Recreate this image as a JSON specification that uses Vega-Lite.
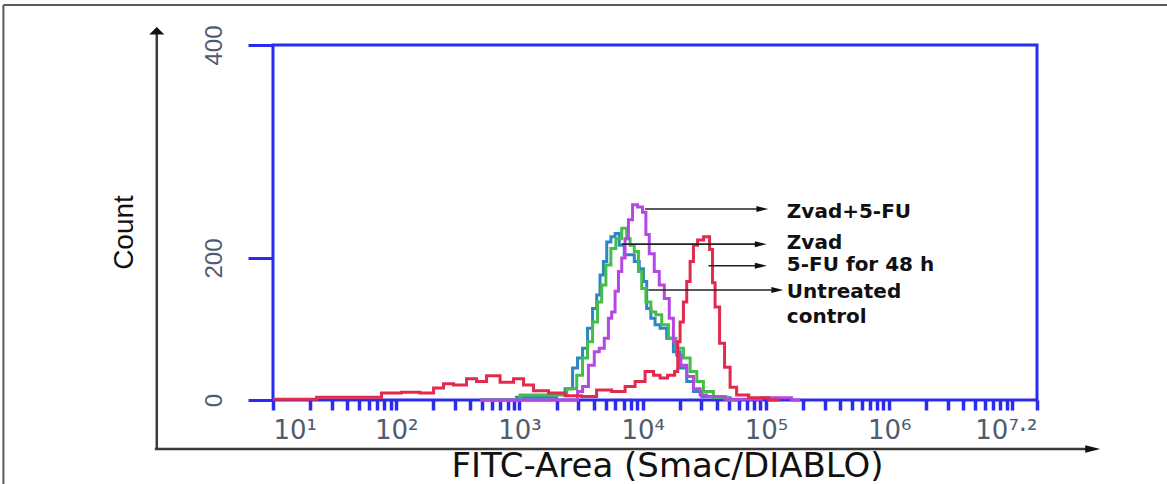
{
  "$schema": "https://vega.github.io/schema/vega-lite/v6.json",
  "width": 764,
  "height": 355,
  "autosize": {"type": "none"},
  "padding": {"left": 273, "top": 45, "right": 130, "bottom": 84},
  "background": "white",
  "config": {
    "view": {"stroke": "#2a2af0", "strokeWidth": 3},
    "axis": {"grid": false}
  },
  "datasets": {
    "hist": [
      {"s": "Untreated control", "x": 479, "y": 0},
      {"s": "Untreated control", "x": 1875, "y": 4},
      {"s": "Untreated control", "x": 2136, "y": 9},
      {"s": "Untreated control", "x": 2576, "y": 16},
      {"s": "Untreated control", "x": 2827, "y": 45},
      {"s": "Untreated control", "x": 3104, "y": 59},
      {"s": "Untreated control", "x": 3407, "y": 73},
      {"s": "Untreated control", "x": 3741, "y": 101},
      {"s": "Untreated control", "x": 4108, "y": 129},
      {"s": "Untreated control", "x": 4367, "y": 148},
      {"s": "Untreated control", "x": 4656, "y": 176},
      {"s": "Untreated control", "x": 4955, "y": 195},
      {"s": "Untreated control", "x": 5270, "y": 215},
      {"s": "Untreated control", "x": 5782, "y": 220},
      {"s": "Untreated control", "x": 6166, "y": 223},
      {"s": "Untreated control", "x": 6761, "y": 212},
      {"s": "Untreated control", "x": 7430, "y": 203},
      {"s": "Untreated control", "x": 8166, "y": 203},
      {"s": "Untreated control", "x": 8954, "y": 195},
      {"s": "Untreated control", "x": 9840, "y": 185},
      {"s": "Untreated control", "x": 10450, "y": 167},
      {"s": "Untreated control", "x": 11120, "y": 129},
      {"s": "Untreated control", "x": 12210, "y": 115},
      {"s": "Untreated control", "x": 13010, "y": 106},
      {"s": "Untreated control", "x": 14720, "y": 101},
      {"s": "Untreated control", "x": 16680, "y": 87},
      {"s": "Untreated control", "x": 18910, "y": 68},
      {"s": "Untreated control", "x": 21400, "y": 45},
      {"s": "Untreated control", "x": 24270, "y": 26},
      {"s": "Untreated control", "x": 27480, "y": 12},
      {"s": "Untreated control", "x": 33110, "y": 5},
      {"s": "Untreated control", "x": 42460, "y": 3},
      {"s": "Untreated control", "x": 61800, "y": 0},

      {"s": "Zvad", "x": 479, "y": 0},
      {"s": "Zvad", "x": 2136, "y": 7},
      {"s": "Zvad", "x": 2737, "y": 16},
      {"s": "Zvad", "x": 3104, "y": 35},
      {"s": "Zvad", "x": 3407, "y": 59},
      {"s": "Zvad", "x": 3741, "y": 82},
      {"s": "Zvad", "x": 4108, "y": 110},
      {"s": "Zvad", "x": 4508, "y": 138},
      {"s": "Zvad", "x": 4797, "y": 162},
      {"s": "Zvad", "x": 5270, "y": 190},
      {"s": "Zvad", "x": 5782, "y": 209},
      {"s": "Zvad", "x": 6353, "y": 218},
      {"s": "Zvad", "x": 7195, "y": 228},
      {"s": "Zvad", "x": 7656, "y": 218},
      {"s": "Zvad", "x": 8166, "y": 212},
      {"s": "Zvad", "x": 8954, "y": 206},
      {"s": "Zvad", "x": 9528, "y": 181},
      {"s": "Zvad", "x": 10140, "y": 157},
      {"s": "Zvad", "x": 11120, "y": 138},
      {"s": "Zvad", "x": 12210, "y": 124},
      {"s": "Zvad", "x": 13410, "y": 120},
      {"s": "Zvad", "x": 15200, "y": 106},
      {"s": "Zvad", "x": 17220, "y": 87},
      {"s": "Zvad", "x": 20140, "y": 73},
      {"s": "Zvad", "x": 22800, "y": 59},
      {"s": "Zvad", "x": 25820, "y": 40},
      {"s": "Zvad", "x": 29240, "y": 26},
      {"s": "Zvad", "x": 33110, "y": 12},
      {"s": "Zvad", "x": 42460, "y": 4},
      {"s": "Zvad", "x": 56230, "y": 0},

      {"s": "Zvad+5-FU", "x": 479, "y": 0},
      {"s": "Zvad+5-FU", "x": 2827, "y": 0},
      {"s": "Zvad+5-FU", "x": 3104, "y": 12},
      {"s": "Zvad+5-FU", "x": 3407, "y": 19},
      {"s": "Zvad+5-FU", "x": 3864, "y": 49},
      {"s": "Zvad+5-FU", "x": 4240, "y": 68},
      {"s": "Zvad+5-FU", "x": 4656, "y": 73},
      {"s": "Zvad+5-FU", "x": 5114, "y": 87},
      {"s": "Zvad+5-FU", "x": 5433, "y": 115},
      {"s": "Zvad+5-FU", "x": 5782, "y": 124},
      {"s": "Zvad+5-FU", "x": 6166, "y": 153},
      {"s": "Zvad+5-FU", "x": 6561, "y": 181},
      {"s": "Zvad+5-FU", "x": 6970, "y": 200},
      {"s": "Zvad+5-FU", "x": 7430, "y": 218},
      {"s": "Zvad+5-FU", "x": 7907, "y": 236},
      {"s": "Zvad+5-FU", "x": 8670, "y": 250},
      {"s": "Zvad+5-FU", "x": 9528, "y": 248},
      {"s": "Zvad+5-FU", "x": 10450, "y": 243},
      {"s": "Zvad+5-FU", "x": 10790, "y": 222},
      {"s": "Zvad+5-FU", "x": 11850, "y": 204},
      {"s": "Zvad+5-FU", "x": 13010, "y": 181},
      {"s": "Zvad+5-FU", "x": 14290, "y": 162},
      {"s": "Zvad+5-FU", "x": 15690, "y": 143},
      {"s": "Zvad+5-FU", "x": 17220, "y": 115},
      {"s": "Zvad+5-FU", "x": 18320, "y": 82},
      {"s": "Zvad+5-FU", "x": 19500, "y": 63},
      {"s": "Zvad+5-FU", "x": 21400, "y": 49},
      {"s": "Zvad+5-FU", "x": 24270, "y": 33},
      {"s": "Zvad+5-FU", "x": 27480, "y": 16},
      {"s": "Zvad+5-FU", "x": 31110, "y": 7},
      {"s": "Zvad+5-FU", "x": 35240, "y": 5},
      {"s": "Zvad+5-FU", "x": 61800, "y": 1},
      {"s": "Zvad+5-FU", "x": 138000, "y": 3},
      {"s": "Zvad+5-FU", "x": 189700, "y": 0},

      {"s": "5-FU for 48 h", "x": 10, "y": 1},
      {"s": "5-FU for 48 h", "x": 16.6, "y": 1},
      {"s": "5-FU for 48 h", "x": 30.7, "y": 4},
      {"s": "5-FU for 48 h", "x": 64.8, "y": 4},
      {"s": "5-FU for 48 h", "x": 89.1, "y": 10},
      {"s": "5-FU for 48 h", "x": 137, "y": 11},
      {"s": "5-FU for 48 h", "x": 178, "y": 10},
      {"s": "5-FU for 48 h", "x": 227, "y": 17},
      {"s": "5-FU for 48 h", "x": 258, "y": 23},
      {"s": "5-FU for 48 h", "x": 330, "y": 21},
      {"s": "5-FU for 48 h", "x": 420, "y": 30},
      {"s": "5-FU for 48 h", "x": 479, "y": 26},
      {"s": "5-FU for 48 h", "x": 611, "y": 34},
      {"s": "5-FU for 48 h", "x": 793, "y": 25},
      {"s": "5-FU for 48 h", "x": 1012, "y": 30},
      {"s": "5-FU for 48 h", "x": 1153, "y": 21},
      {"s": "5-FU for 48 h", "x": 1469, "y": 13},
      {"s": "5-FU for 48 h", "x": 2018, "y": 10},
      {"s": "5-FU for 48 h", "x": 2723, "y": 6},
      {"s": "5-FU for 48 h", "x": 3741, "y": 5},
      {"s": "5-FU for 48 h", "x": 4775, "y": 14},
      {"s": "5-FU for 48 h", "x": 6561, "y": 12},
      {"s": "5-FU for 48 h", "x": 7907, "y": 19},
      {"s": "5-FU for 48 h", "x": 9528, "y": 26},
      {"s": "5-FU for 48 h", "x": 11480, "y": 40},
      {"s": "5-FU for 48 h", "x": 13090, "y": 35},
      {"s": "5-FU for 48 h", "x": 14650, "y": 31},
      {"s": "5-FU for 48 h", "x": 17330, "y": 35},
      {"s": "5-FU for 48 h", "x": 19010, "y": 40},
      {"s": "5-FU for 48 h", "x": 19500, "y": 82},
      {"s": "5-FU for 48 h", "x": 20760, "y": 110},
      {"s": "5-FU for 48 h", "x": 22080, "y": 138},
      {"s": "5-FU for 48 h", "x": 23500, "y": 167},
      {"s": "5-FU for 48 h", "x": 25060, "y": 195},
      {"s": "5-FU for 48 h", "x": 26610, "y": 212},
      {"s": "5-FU for 48 h", "x": 29240, "y": 217},
      {"s": "5-FU for 48 h", "x": 33340, "y": 220},
      {"s": "5-FU for 48 h", "x": 36560, "y": 208},
      {"s": "5-FU for 48 h", "x": 37240, "y": 165},
      {"s": "5-FU for 48 h", "x": 40180, "y": 131},
      {"s": "5-FU for 48 h", "x": 44060, "y": 80},
      {"s": "5-FU for 48 h", "x": 48420, "y": 46},
      {"s": "5-FU for 48 h", "x": 54200, "y": 18},
      {"s": "5-FU for 48 h", "x": 61800, "y": 7},
      {"s": "5-FU for 48 h", "x": 84900, "y": 3},
      {"s": "5-FU for 48 h", "x": 130300, "y": 0}
    ],
    "callouts": [
      {"t": "Zvad+5-FU", "x": 10450, "x2": 93750, "y": 246},
      {"t": "Zvad", "x": 6760, "x2": 90960, "y": 213},
      {"t": "5-FU for 48 h", "x": 34140, "x2": 90960, "y": 189},
      {"t": "Untreated control", "x": 11120, "x2": 123900, "y": 155}
    ],
    "notes": [
      {"t": "Zvad+5-FU", "x": 147900, "y": 238},
      {"t": "Zvad", "x": 147900, "y": 208},
      {"t": "5-FU for 48 h", "x": 147900, "y": 181},
      {"t": "Untreated", "x": 147900, "y": 144},
      {"t": "control", "x": 147900, "y": 109}
    ],
    "arrows": [
      {"x": 1.14, "x2": 1.14, "y": -69, "y2": 413},
      {"x": 1.10, "x2": 44900000, "y": -69, "y2": -69}
    ],
    "heads": [
      {"kind": "up", "x": 1.14, "y": 413.4},
      {"kind": "right", "x": 44900000, "y": -69}
    ],
    "border": [
      {"x": 0.0649, "x2": 180000000, "y": 437.6, "y2": 437.6},
      {"x": 0.0649, "x2": 0.0649, "y": 437.6, "y2": -120}
    ]
  },
  "encoding": {
    "x": {
      "field": "x",
      "type": "quantitative",
      "scale": {"type": "log", "domain": [10, 15848932], "nice": false},
      "axis": {
        "title": "FITC-Area (Smac/DIABLO)",
        "domain": false,
        "values": [10, 20, 30, 40, 50, 60, 70, 80, 90,
                   100, 200, 300, 400, 500, 600, 700, 800, 900,
                   1000, 2000, 3000, 4000, 5000, 6000, 7000, 8000, 9000,
                   10000, 20000, 30000, 40000, 50000, 60000, 70000, 80000, 90000,
                   100000, 200000, 300000, 400000, 500000, 600000, 700000, 800000, 900000,
                   1000000, 2000000, 3000000, 4000000, 5000000, 6000000, 7000000, 8000000, 9000000,
                   10000000, 15848932],
        "tickSize": 10,
        "tickWidth": 3.5,
        "tickColor": "#2a2af0",
        "labelExpr": "datum.value == 10 ? '10¹' : datum.value == 100 ? '10²' : datum.value == 1000 ? '10³' : datum.value == 10000 ? '10⁴' : datum.value == 100000 ? '10⁵' : datum.value == 1000000 ? '10⁶' : datum.value > 12000000 ? '10⁷·²' : ''",
        "labelFont": "DejaVu Sans",
        "labelFontSize": 26,
        "labelColor": "#4f5b70",
        "labelBaseline": "alphabetic",
        "labelPadding": 28,
        "labelOverlap": false,
        "labelFlush": true,
        "labelBound": false,
        "titleFont": "DejaVu Sans",
        "titleFontSize": 34,
        "titleFontWeight": "normal",
        "titleColor": "#111111",
        "titleX": 394,
        "titleY": 76,
        "titleAlign": "center",
        "titleBaseline": "alphabetic",
        "titleAngle": 0
      }
    },
    "y": {
      "field": "y",
      "type": "quantitative",
      "scale": {"domain": [0, 200, 400], "range": [355, 213, 0], "nice": false, "zero": false},
      "axis": {
        "title": "Count",
        "domain": false,
        "values": [0, 200, 400],
        "tickSize": 25,
        "tickWidth": 3,
        "tickColor": "#2a2af0",
        "labelAngle": 270,
        "labelAlign": "center",
        "labelBaseline": "alphabetic",
        "labelPadding": 27,
        "labelFont": "Liberation Sans",
        "labelFontSize": 24,
        "labelColor": "#4f5b70",
        "labelFlush": false,
        "labelOverlap": false,
        "titleFont": "Liberation Sans",
        "titleFontSize": 28,
        "titleFontWeight": "normal",
        "titleColor": "#111111",
        "titleAngle": 270,
        "titleX": -141,
        "titleY": 187,
        "titleAlign": "center",
        "titleBaseline": "alphabetic"
      }
    }
  },
  "layer": [
    {
      "data": {"name": "border"},
      "mark": {"type": "rule", "color": "#5a5a5a", "strokeWidth": 2},
      "encoding": {"x2": {"field": "x2"}, "y2": {"field": "y2"}}
    },
    {
      "data": {"name": "arrows"},
      "mark": {"type": "rule", "color": "#3a3a3a", "strokeWidth": 2.5},
      "encoding": {"x2": {"field": "x2"}, "y2": {"field": "y2"}}
    },
    {
      "data": {"name": "heads"},
      "transform": [{"filter": "datum.kind == 'up'"}],
      "mark": {"type": "point", "shape": "M-0.6,0.3L0,-0.3L0.6,0.3Z", "size": 625, "filled": true, "color": "#111111", "opacity": 1}
    },
    {
      "data": {"name": "heads"},
      "transform": [{"filter": "datum.kind == 'right'"}],
      "mark": {"type": "point", "shape": "M-0.6,-0.3L0.6,0L-0.6,0.3Z", "size": 625, "filled": true, "color": "#111111", "opacity": 1}
    },
    {
      "data": {"name": "hist"},
      "mark": {"type": "line", "interpolate": "step", "strokeWidth": 3},
      "encoding": {
        "color": {
          "field": "s",
          "type": "nominal",
          "scale": {
            "domain": ["Untreated control", "Zvad", "Zvad+5-FU", "5-FU for 48 h"],
            "range": ["#2b86c4", "#45bd4a", "#b548e2", "#e22b4c"]
          },
          "legend": null
        }
      }
    },
    {
      "data": {"name": "callouts"},
      "mark": {"type": "rule", "color": "#222222", "strokeWidth": 1.6},
      "encoding": {"x2": {"field": "x2"}}
    },
    {
      "data": {"name": "callouts"},
      "mark": {"type": "point", "shape": "M-0.6,-0.3L0.6,0L-0.6,0.3Z", "size": 400, "filled": true, "color": "#111111", "opacity": 1},
      "encoding": {"x": {"field": "x2", "type": "quantitative"}}
    },
    {
      "data": {"name": "notes"},
      "mark": {"type": "text", "align": "left", "baseline": "alphabetic", "font": "DejaVu Sans", "fontWeight": "bold", "fontSize": 20, "color": "#111111"},
      "encoding": {"text": {"field": "t"}}
    }
  ]
}
